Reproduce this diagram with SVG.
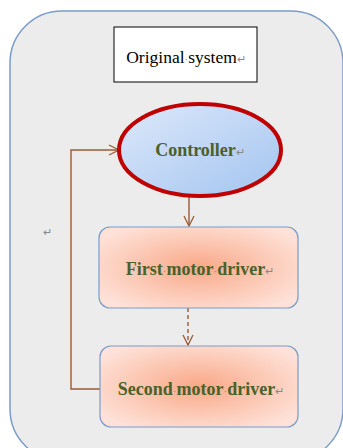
<svg xmlns="http://www.w3.org/2000/svg" width="343" height="448" viewBox="0 0 343 448">
<defs>
<linearGradient id="blueG" x1="0" y1="0" x2="1" y2="1">
<stop offset="0" stop-color="#dde9fa"/>
<stop offset="1" stop-color="#a3c4f0"/>
</linearGradient>
<radialGradient id="peachG" cx="0.5" cy="0.5" r="0.6">
<stop offset="0" stop-color="#f9a888"/>
<stop offset="0.6" stop-color="#fccbb8"/>
<stop offset="1" stop-color="#fee1d8"/>
</radialGradient>
<marker id="arr" viewBox="0 0 12 12" refX="11" refY="6" markerWidth="12" markerHeight="12" markerUnits="userSpaceOnUse" orient="auto">
<path d="M1,1 L11,6 L1,11" fill="none" stroke="#9c5a34" stroke-width="1.3"/>
</marker>
<style>
.lbl{font-family:"Liberation Serif","Times New Roman",serif;font-weight:bold;font-size:18px;fill:#4a6129;text-anchor:middle}
.mk{font-family:"Liberation Serif",serif;font-weight:normal;fill:#888888;font-size:11px}
.box{fill:url(#peachG);stroke:#7b9cc8;stroke-width:1.2}
.conn{fill:none;stroke:#9c5a34;stroke-width:1.4}
</style>
</defs>
<rect x="10" y="11" width="333" height="450" rx="52" ry="52" fill="#ececec" stroke="#7b9cc8" stroke-width="1.5"/>
<text x="43" y="236" class="mk">↵</text>
<g id="title">
<rect x="114" y="27" width="143" height="55" fill="#ffffff" stroke="#000000" stroke-width="1"/>
<text x="186" y="63" style="font-family:'Liberation Serif','Times New Roman',serif;font-size:17.5px;fill:#000;text-anchor:middle">Original<tspan class="mk">·</tspan>system<tspan class="mk">↵</tspan></text>
</g>
<g id="connectors">
<line x1="189" y1="197" x2="189" y2="226" class="conn" marker-end="url(#arr)"/>
<line x1="188" y1="308" x2="188" y2="345" class="conn" stroke-dasharray="4,3" marker-end="url(#arr)"/>
<polyline points="100,389 71,389 71,150 119,150" class="conn" marker-end="url(#arr)"/>
</g>
<g id="controller">
<ellipse cx="200" cy="150" rx="81" ry="46" fill="url(#blueG)" stroke="#c00000" stroke-width="4"/>
<text x="200" y="156" class="lbl">Controller<tspan class="mk">↵</tspan></text>
</g>
<g id="first">
<rect x="99" y="227" width="199" height="81" rx="11" ry="11" class="box"/>
<text x="200" y="275" class="lbl">First<tspan class="mk">·</tspan>motor<tspan class="mk">·</tspan>driver<tspan class="mk">↵</tspan></text>
</g>
<g id="second">
<rect x="100" y="346" width="198" height="81" rx="11" ry="11" class="box"/>
<text x="201" y="395" class="lbl">Second<tspan class="mk">·</tspan>motor<tspan class="mk">·</tspan>driver<tspan class="mk">↵</tspan></text>
</g>
</svg>
